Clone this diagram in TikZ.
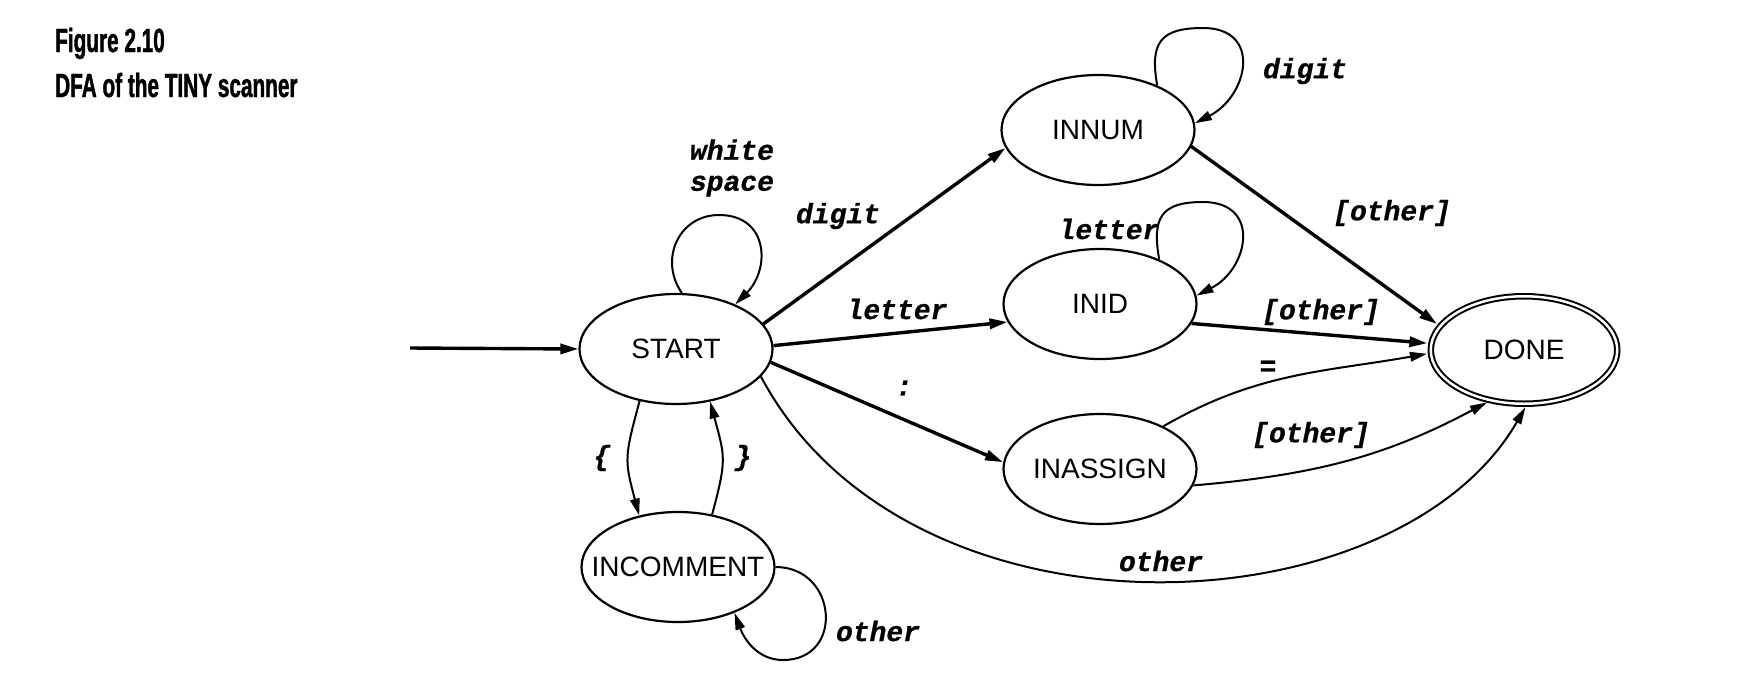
\documentclass[tikz,border=0pt]{standalone}
\usepackage{fontspec}
\setmainfont{Liberation Sans}
\newfontfamily\lblfont[FakeBold=0.8]{Liberation Mono}
\newfontfamily\ttlfont[FakeStretch=0.62,FakeBold=1.2]{Liberation Sans Bold}
\usetikzlibrary{arrows.meta,shapes.geometric}
\newcommand{\stname}[1]{\makebox[0pt]{#1}}
\begin{document}
\begin{tikzpicture}[x=1pt,y=1pt,
  state/.style={ellipse,draw,line width=2.2pt,minimum width=193pt,minimum height=110pt,inner sep=0pt,
    font=\fontsize{28}{30}\selectfont},
  final/.style={state,line width=2pt,double,double distance=2.5pt,minimum width=186.5pt,minimum height=107.5pt},
  hvy/.style={line width=3.4pt,-{Triangle[length=18pt,width=10pt]}},
  lgt/.style={line width=2pt,-{Triangle[length=17pt,width=9.5pt]}},
  lbl/.style={font=\lblfont\bfseries\itshape\fontsize{28}{31}\selectfont,inner sep=0pt},
  ttl/.style={font=\ttlfont\fontsize{33.5}{36}\selectfont,inner sep=0pt,anchor=base west}]
\path[use as bounding box] (0,0) rectangle (1760,-697);

% title
\node[ttl] (fig) at (55,-52) {Figure 2.10};
\node[ttl] (cap) at (55,-97) {DFA of the TINY scanner};

% states
\node[state] (START) at (676,-349) {\stname{START}};
\node[state] (INNUM) at (1098,-130) {\stname{INNUM}};
\node[state] (INID) at (1100,-304) {\stname{INID}};
\node[state] (INASSIGN) at (1100,-469) {\stname{INASSIGN}};
\node[state] (INCOMMENT) at (678,-567) {\stname{INCOMMENT}};
\node[final] (DONE) at (1524,-350) {\stname{DONE}};

% helper coordinates
\coordinate (init) at (410,-348);
\coordinate (wsT) at (719,-215);
\coordinate (nT) at (1203,-28);
\coordinate (iT) at (1203,-202);
\coordinate (cB) at (783,-660);

% initial arrow
\draw[hvy] (init) -- (START.west);

% straight transitions
\draw[hvy] (START.16) -- (INNUM.191);
\draw[hvy] (START.2) -- (INID.191);
\draw[hvy] (START.352) -- (INASSIGN.176);
\draw[hvy,shorten >=3pt] (INNUM.350) -- (DONE.164);
\draw[hvy,shorten >=3pt] (INID.348) -- (DONE.176);

% curved transitions
\draw[lgt,shorten >=3pt] (INASSIGN.34) to[out=30,in=190] (DONE.182);
\draw[lgt,shorten >=3pt] (INASSIGN.350) to[out=5,in=208] (DONE.236);
\draw[lgt,shorten >=3pt] (START.342) .. controls +(-62:314) and +(240:263) .. (DONE.273);
\draw[lgt] (START.235) to[out=255,in=105,looseness=1.3] (INCOMMENT.127);
\draw[lgt] (INCOMMENT.57) to[out=75,in=285,looseness=1.3] (START.303);

% self loops
\draw[lgt] (START.84) to[out=125,in=180,looseness=1.2] (wsT) to[out=0,in=45,looseness=1.4] (START.37);
\draw[lgt] (INNUM.37) to[out=100,in=180,looseness=1.5] (nT) to[out=0,in=27,looseness=1.6] (INNUM.4);
\draw[lgt] (INID.37) to[out=100,in=180,looseness=1.5] (iT) to[out=0,in=27,looseness=1.6] (INID.5);
\draw[lgt] (INCOMMENT.0) to[out=0,in=0,looseness=1.7] (cB) to[out=180,in=290,looseness=1] (INCOMMENT.-39);

% labels
\node[lbl,align=center] (Lws) at (732,-168) {white\\space};
\node[lbl] (Ldig1) at (838,-216) {digit};
\node[lbl] (Llet1) at (897,-309) {letter};
\node[lbl] (Lcol) at (904,-388) {:};
\node[lbl] (Lob) at (602,-458) {\{};
\node[lbl] (Lcb) at (743,-458) {\}};
\node[lbl] (Ldig2) at (1305,-71) {digit};
\node[lbl] (Llet2) at (1109,-229) {letter};
\node[lbl] (Loth1) at (1392,-213) {[other]};
\node[lbl] (Loth2) at (1321,-312) {[other]};
\node[lbl] (Leq) at (1268,-368) {=};
\node[lbl] (Loth3) at (1311,-435) {[other]};
\node[lbl] (Loth4) at (1161,-561) {other};
\node[lbl] (Loth5) at (878,-631) {other};
\end{tikzpicture}
\end{document}
